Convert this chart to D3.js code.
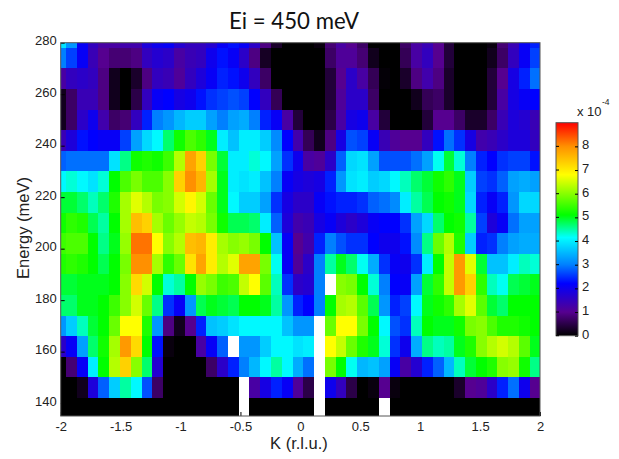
<!DOCTYPE html>
<html>
<head>
<meta charset="utf-8">
<script src="https://cdn.jsdelivr.net/npm/d3@7"></script>
<style>
    html, body { margin: 0; padding: 0; background: #fff; }
    text { font-family: "Liberation Sans", sans-serif; fill: #222; }
    .domain { stroke: none; }
    .tick line { stroke: #000; }
</style>
</head>
<body>
<div id="chart"></div>
<script>
// K centres (r.l.u.), one per column
const kValues = [-2, -1.91, -1.82, -1.73, -1.64, -1.55, -1.46, -1.37, -1.28, -1.19, -1.1, -1.01, -0.92, -0.83, -0.74,
    -0.65, -0.56, -0.47, -0.38, -0.29, -0.2, -0.11, -0.02, 0.07, 0.16, 0.25, 0.34, 0.43, 0.52, 0.61,
    0.7, 0.79, 0.88, 0.97, 1.06, 1.15, 1.24, 1.33, 1.42, 1.51, 1.6, 1.69, 1.78, 1.87, 1.96];

// Energy centres (meV), one per row, top row first
const energies = [282, 274, 266, 258, 250, 242, 234, 226, 218, 210, 202, 194, 186, 178, 170, 162, 154, 146, 138];

// Intensity in units of 1e-4, null = no data (white)
const _ = null;
const intensity = [
    [3.9,3.2,2.1,1.5,1.2,1.2,1.3,1.3,1.8,2,2.1,1.7,1.5,1.5,1.7,2.1,2.3,2.1,1.6,0.9,0.3,0,0,0,0.1,0.8,1.2,1,0.7,0,0,0,0.7,1.2,1.4,1,0.4,0,0,0,0.1,0.8,1.4,2.1,2.4],
    [3,2.6,2.1,1.4,1,0.8,0.8,0.9,1.5,1.7,1.6,1.2,1.4,1.5,2,2.3,2.1,1.6,0.9,0.25,0,0,0,0,0,0.7,1.1,1.1,0.8,0.2,0,0,0.6,1.2,1.5,1,0.4,0,0,0,0.2,0.7,1.5,2.1,2.6],
    [1.2,1.5,1.6,1.5,0.9,0.2,0,0.3,0.9,1.5,1.4,1.1,1.5,1.8,2.1,2.4,2.3,2,1.5,0.7,0,0,0,0,0,0.4,1,1.6,1.2,0.6,0.05,0,0.3,0.9,1.3,0.9,0.3,0,0,0,0.4,1,1.9,2.4,2.9],
    [0.2,0.7,1.4,1.4,0.9,0.2,0,0.5,1.5,2.1,2.2,1.9,2,2.3,2.5,2.6,2.7,2.6,2.2,1.5,0.6,0,0,0,0,0.4,1.1,1.6,1.6,0.7,0,0,0,0.2,0.6,0.7,0.3,0,0,0,0.4,1.2,1.9,2.1,2.2],
    [0.2,0.7,1.6,2,1.3,0.7,0.8,1.5,2.4,3,3.2,3.5,3.7,3.7,3.3,3,3.3,3.4,3,2.4,2.1,1.2,0.4,0,0,0.5,1.2,1.9,2,1.2,0.4,0,0,0,0.4,1,1,0.7,0.3,0.3,0.7,1.4,1.8,1.7,1.4],
    [1.4,1.8,2.3,2.2,2.1,2.1,2.6,3.3,3.8,4.1,4.7,5.2,5.6,5.4,5,4,3.6,4,4,3.7,3.1,2.2,1.3,0.6,0.2,0.9,1.9,2.7,2.6,2.1,1.4,1.1,1,1,1.5,2.3,2.9,2.5,1.9,1.3,1.4,1.6,1.8,1.8,1.5],
    [2.8,2.9,2.9,2.9,2.9,3.9,4.6,5.2,5.3,5.2,5.5,6.3,7.8,7.3,5.9,4.9,4,4,4.3,4.1,3.3,2.5,2,1.2,1.1,1.6,2.8,3.8,3.9,3.3,2.7,2.7,2.7,2.9,3.3,4.2,4.9,4.3,3,2.4,2.2,2.5,2.6,2.6,2.3],
    [4.1,4.3,4.1,3.9,4.3,5.1,5.6,5.9,5.6,5.6,6,7.3,8,7.6,6.2,5,4,3.9,4,3.6,3,2.1,1.9,1.8,1.9,2.4,3.2,3.9,4,3.7,3.8,4.1,4.4,4.7,4.9,5.2,5.4,5,3.7,2.6,2.5,2.8,3.3,3.4,3.3],
    [4.9,4.9,4.7,4.4,4.7,5.3,6.2,6.6,6.3,5.9,6,6.5,6.9,6.5,5.8,5,4.1,3.7,3.7,3.3,2.5,1.9,1.6,1.6,2.1,2.3,2.4,2.4,2.5,2.8,2.9,3.1,4,4.5,4.8,5.1,5.2,5,3.8,2.4,2.1,2.4,3.2,3.8,3.8],
    [5.2,5.4,5.3,4.8,4.5,5.1,6.2,7.5,7.3,6.2,5.8,6.1,6.4,6.3,5.9,5.2,4.8,4.8,4.7,4,2.8,1.8,1.3,1.4,1.9,2.1,1.8,1.6,1.8,2.1,2.2,2.2,2.5,3.3,3.8,4.7,5.1,5.2,4.5,2.6,1.8,2.1,2.9,3.3,3.3],
    [5.5,5.6,5.6,5.1,4.6,5,6.1,8.2,8.2,6.8,6,6.3,7.5,7.6,7,6.2,6,6.1,5.9,5.1,3.6,2.1,1,1.3,2.4,3,2.7,2.5,2.5,2.2,2,2,2.3,3.1,4.6,5.8,6.3,5.3,3.7,2.4,2.5,3,3.3,3.4,3.4],
    [5.3,5.4,5.3,5.1,4.8,5.1,5.9,8,8,6.2,5.4,5.8,7.1,7.8,7,6.3,6.6,7.8,7.8,5.9,4.2,2.1,1.1,1.6,3,4.5,5,4.7,4.2,3.4,2.5,2.1,2,2.5,4,5.1,6.4,7.9,6.6,4.9,3.6,3.6,4,4.4,4.3],
    [4.9,4.9,5,5,5,5.1,6,7.2,6.5,5.1,4.3,4.5,5.1,6.1,5.9,5.5,5.6,6.4,6.8,5.7,4.4,2.5,1.6,1.7,3,_,6,5.9,5.1,4.3,3,2.2,2.1,3.3,4.9,5.4,6.4,7.9,7.3,5.4,4.4,4.2,4.8,4.9,5],
    [4.7,4.7,5,5,5.1,5.5,6,6.5,5.8,4.6,2.5,2.1,3.2,4.8,5,4.9,4.8,5.1,5.1,5,4.5,3.2,2.4,2.2,3,5.1,6.2,6.3,5.7,4.8,3.2,2.4,2.6,4.1,5,5.2,5.4,6.2,6.6,5.7,4.9,4.7,5.1,5.1,5.1],
    [3.2,3.7,4.4,4.9,5.1,5.8,6.8,6.8,5.3,3.2,0.9,0.2,1,2.4,3.6,3.7,3.9,4.1,4.1,4.1,4.1,3.6,3.2,3.2,_,5.8,6.8,6.8,5.9,5.1,4.1,2.7,2.5,4.4,5.1,5,5,5.2,5.9,6,5.6,5.3,5.3,5.2,5.1],
    [1.6,2.1,3.3,4.7,5.2,6.2,7.9,7.2,5.1,2.3,0.1,0,0,1.2,2.1,2.8,_,3.2,3.2,3.7,4.1,4.1,3.9,4,_,6.8,6.4,5.8,5.3,5,4.3,2.5,2,3.4,4.6,4.4,4.5,5,5.3,6,6.3,6.5,6.3,5.7,5],
    [0,0.8,2.1,4,5.1,6.3,7.3,6,4.7,1.7,0,0,0,0,0.7,1.6,2.4,3,3.5,4.1,4.5,4.1,3.4,2.9,_,5.9,5.1,4.2,3.5,3.6,3.3,2.1,1.2,1.7,2.4,2.8,3.5,4.4,4.9,5.1,5.3,6,6.1,5.2,4.6],
    [0,0,0.2,1.8,2.8,3.7,4.5,4.1,2.7,0.7,0,0,0,0,0,0,0,_,1.2,1.9,2.4,2.1,1.1,0.5,_,2,1.5,0.5,0,0.1,1,0.1,0,0,0,0,0,0.3,1,1.1,1.6,2.4,2.9,2,1],
    [0,0,0,0,0,0,0,0,0,0,0,0,0,0,0,0,0,_,0,0,0,0,0,0,_,0,0,0,0,0,_,0,0,0,0,0,0,0,0,0,0,0,0,0,0]
];

// Tick labels
const xTicks = [-2, -1.5, -1, -0.5, 0, 0.5, 1, 1.5, 2];
const yTicks = [140, 160, 180, 200, 220, 240, 260, 280];
const cTicks = [0, 1, 2, 3, 4, 5, 6, 7, 8];

// Colormap stops
const cStops = [0, 1, 2.2, 3, 4.15, 5.1, 6.8, 8, 9];
const cColors = ['#000000', '#560090', '#0000ff', '#0080ff', '#00ffff', '#00ff00', '#ffff00', '#ff9000', '#ff0000'];

const width = 619,
    height = 459,
    left = 60.7,
    right = 540,
    top_ = 42.7,
    bottom = 416,
    stepK = 0.09,
    stepE = 8;

let x = d3.scaleLinear().domain([-2, 2]).range([left, right]),
    y = d3.scaleLinear().domain([135, 280]).range([bottom, top_]),
    color = d3.scaleLinear().domain(cStops).range(cColors),
    c = d3.scaleLinear().domain([0, 9]).range([335.7, 122.7]);

let svg = d3.select('#chart').append('svg')
    .attr('width', width)
    .attr('height', height)
    .style('display', 'block');

svg.append('clipPath')
    .attr('id', 'plotClip')
    .append('rect')
    .attr('x', left)
    .attr('y', top_)
    .attr('width', right - left)
    .attr('height', bottom - top_);

// Heatmap cells
let cells = [];
energies.forEach((e, r) => {
    kValues.forEach((k, i) => {
        cells.push({k: k, e: e, v: intensity[r][i]});
    });
});

svg.append('g')
    .attr('clip-path', 'url(#plotClip)')
    .attr('shape-rendering', 'crispEdges')
    .selectAll('rect')
    .data(cells)
    .enter().append('rect')
    .attr('x', (d) => x(d.k - stepK / 2))
    .attr('y', (d) => y(d.e + stepE / 2))
    .attr('width', (d) => x(d.k + stepK / 2) - x(d.k - stepK / 2))
    .attr('height', (d) => y(d.e - stepE / 2) - y(d.e + stepE / 2))
    .attr('fill', (d) => d.v === null ? '#fff' : color(d.v));

// Axes
let xAxis = svg.append('g')
    .attr('transform', `translate(0,${bottom})`)
    .call(d3.axisBottom(x).tickValues(xTicks).tickFormat(String).tickSizeInner(-4).tickSizeOuter(0).tickPadding(6));

let yAxis = svg.append('g')
    .attr('transform', `translate(${left},0)`)
    .call(d3.axisLeft(y).tickValues(yTicks).tickFormat(String).tickSizeInner(-4).tickSizeOuter(0).tickPadding(4));

xAxis.selectAll('text').style('font-size', '13px').style('font-family', '"Liberation Sans", sans-serif').attr('fill', '#222');
yAxis.selectAll('text').style('font-size', '13px').style('font-family', '"Liberation Sans", sans-serif').attr('fill', '#222').attr('dy', '0.16em');

// Plot frame
svg.append('rect')
    .attr('x', left)
    .attr('y', top_)
    .attr('width', right - left)
    .attr('height', bottom - top_)
    .attr('fill', 'none')
    .attr('stroke', '#555')
    .attr('stroke-width', 1);

// Titles
svg.append('text')
    .attr('x', 294)
    .attr('y', 29)
    .attr('text-anchor', 'middle')
    .attr('textLength', 130)
    .attr('lengthAdjust', 'spacingAndGlyphs')
    .style('font-family', 'Lato, sans-serif')
    .style('font-size', '24px')
    .style('fill', '#111')
    .text('Ei = 450 meV');

svg.append('text')
    .attr('x', 299)
    .attr('y', 449)
    .attr('text-anchor', 'middle')
    .style('font-size', '16.5px')
    .text('K (r.l.u.)');

svg.append('text')
    .attr('transform', 'translate(29,228) rotate(-90)')
    .attr('text-anchor', 'middle')
    .style('font-size', '16.5px')
    .text('Energy  (meV)');

// Colorbar
const barLeft = 556,
    barWidth = 22;

let grad = svg.append('linearGradient')
    .attr('id', 'barGradient')
    .attr('x1', 0).attr('x2', 0)
    .attr('y1', 1).attr('y2', 0);

grad.selectAll('stop')
    .data(cStops)
    .enter().append('stop')
    .attr('offset', (d) => d / 9)
    .attr('stop-color', (d) => color(d));

svg.append('rect')
    .attr('x', barLeft)
    .attr('y', c(9))
    .attr('width', barWidth)
    .attr('height', c(0) - c(9))
    .attr('fill', 'url(#barGradient)')
    .attr('stroke', '#555');

let cAxis = svg.append('g')
    .attr('transform', `translate(${barLeft + barWidth},0)`)
    .call(d3.axisRight(c).tickValues(cTicks).tickFormat(String).tickSizeInner(-3).tickSizeOuter(0).tickPadding(4));

cAxis.selectAll('text').style('font-size', '13px').attr('fill', '#222').attr('dy', '0.2em');

svg.append('g')
    .selectAll('line')
    .data(cTicks)
    .enter().append('line')
    .attr('x1', barLeft)
    .attr('x2', barLeft + 3)
    .attr('y1', (d) => c(d))
    .attr('y2', (d) => c(d))
    .attr('stroke', '#000');

svg.append('text')
    .attr('x', 577)
    .attr('y', 116)
    .style('font-size', '13px')
    .text('x 10');

svg.append('text')
    .attr('x', 602)
    .attr('y', 105)
    .style('font-size', '8.5px')
    .text('-4');
</script>
</body>
</html>
